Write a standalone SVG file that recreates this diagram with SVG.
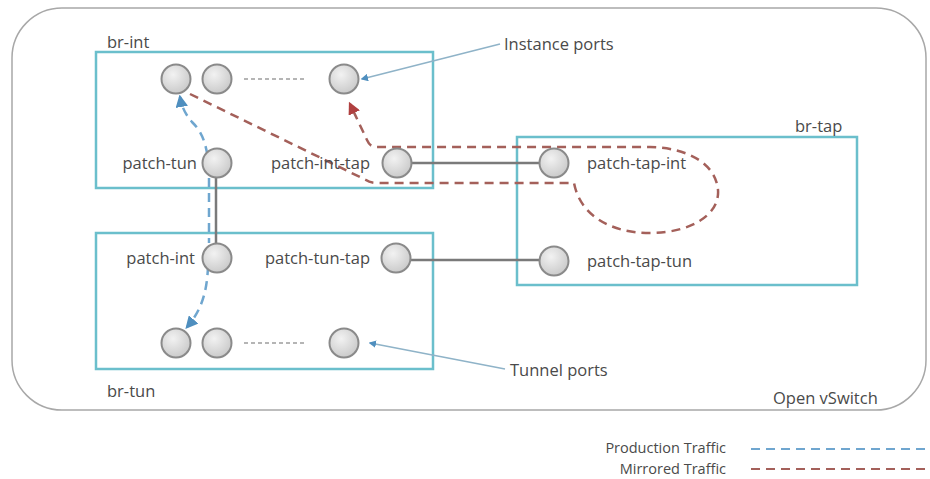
<svg xmlns="http://www.w3.org/2000/svg" width="930" height="479" viewBox="0 0 930 479">
<style>
text{font-family:"Open Sans","Liberation Sans",sans-serif;font-size:16.5px;fill:#4a4a4a}
.lg{font-size:14.5px}
.br{fill:none;stroke:#6bbfcc;stroke-width:2.5}
.port{fill:url(#g);stroke:#8a8a8a;stroke-width:2}
.link{stroke:#7a7a7a;stroke-width:2.5;fill:none}
.dots{stroke:#b5b5b5;stroke-width:2;stroke-dasharray:4 3;fill:none}
.prod{stroke:#6fa6cf;stroke-width:2.5;stroke-dasharray:9 6;fill:none}
.mir{stroke:#a4605a;stroke-width:2.5;stroke-dasharray:9 6;fill:none}
.call{stroke:#8fb3c8;stroke-width:1.5;fill:none}
</style>
<defs>
<radialGradient id="g" cx="0.4" cy="0.35" r="0.7"><stop offset="0" stop-color="#f2f2f2"/><stop offset="1" stop-color="#c8c8c8"/></radialGradient>
<marker id="ab" viewBox="0 0 10 10" refX="8" refY="5" markerWidth="5" markerHeight="5" orient="auto"><path d="M0,0L10,5L0,10z" fill="#4f8fbf"/></marker>
<marker id="ar" viewBox="0 0 10 10" refX="8" refY="5" markerWidth="5" markerHeight="5" orient="auto"><path d="M0,0L10,5L0,10z" fill="#b04040"/></marker>
<marker id="ac" viewBox="0 0 10 10" refX="8" refY="5" markerWidth="5" markerHeight="5" orient="auto"><path d="M0,0L10,5L0,10z" fill="#4f8fbf"/></marker>
</defs>
<rect x="12" y="8" width="914" height="402" rx="50" fill="#fff" stroke="#a8a8a8" stroke-width="1.5"/>
<text x="773" y="404">Open vSwitch</text>

<g id="br-int">
<rect class="br" x="96" y="52" width="337" height="136"/>
<text x="107" y="48">br-int</text>
</g>
<g id="br-tun">
<rect class="br" x="96" y="233" width="337" height="136"/>
<text x="107" y="397">br-tun</text>
</g>
<g id="br-tap">
<rect class="br" x="517" y="137" width="340" height="148"/>
<text x="795" y="132">br-tap</text>
</g>

<g id="connectors">
<line class="link" x1="216" y1="178" x2="216" y2="243"/>
<line class="link" x1="412" y1="163" x2="539" y2="163"/>
<line class="link" x1="410" y1="260" x2="539" y2="260"/>
<line class="dots" x1="244" y1="79" x2="306" y2="79"/>
<line class="dots" x1="244" y1="343" x2="306" y2="343"/>
<path class="prod" d="M209 170 C207 140 200 130 192 122 C186 115 182 108 180 97" marker-end="url(#ab)"/>
<path class="prod" d="M209 178 L209 243"/>
<path class="prod" d="M208 266 C207 295 200 312 187 327" marker-end="url(#ab)"/>
<path class="mir" d="M190 94 L366 180 Q370 183 378 183 L574 183 C580 215 610 233 650 233 C690 233 720 215 718 190 C716 165 690 148 650 147 L376 147 Q370 147 367 140 L350 104" marker-end="url(#ar)"/>
<line class="call" x1="500" y1="44" x2="362" y2="79" marker-end="url(#ac)"/>
<line class="call" x1="505" y1="369" x2="370" y2="343" marker-end="url(#ac)"/>
</g>

<g id="instance-ports">
<circle class="port" cx="176" cy="79" r="14.5"/>
<circle class="port" cx="217" cy="79" r="14.5"/>
<circle class="port" cx="344" cy="79" r="14.5"/>
<text x="504" y="50">Instance ports</text>
</g>
<g id="patch-tun">
<circle class="port" cx="217" cy="163" r="14.5"/>
<text x="197" y="169" text-anchor="end">patch-tun</text>
</g>
<g id="patch-int-tap">
<circle class="port" cx="397" cy="163" r="14.5"/>
<text x="370" y="169" text-anchor="end">patch-int-tap</text>
</g>
<g id="patch-tap-int">
<circle class="port" cx="554" cy="163" r="14.5"/>
<text x="587" y="169">patch-tap-int</text>
</g>
<g id="patch-int">
<circle class="port" cx="217" cy="258" r="14.5"/>
<text x="195" y="264" text-anchor="end">patch-int</text>
</g>
<g id="patch-tun-tap">
<circle class="port" cx="396" cy="258" r="14.5"/>
<text x="370" y="264" text-anchor="end">patch-tun-tap</text>
</g>
<g id="patch-tap-tun">
<circle class="port" cx="554" cy="261" r="14.5"/>
<text x="587" y="267">patch-tap-tun</text>
</g>
<g id="tunnel-ports">
<circle class="port" cx="176" cy="343" r="14.5"/>
<circle class="port" cx="217" cy="343" r="14.5"/>
<circle class="port" cx="344" cy="343" r="14.5"/>
<text x="510" y="376">Tunnel ports</text>
</g>

<g id="legend">
<text class="lg" x="726" y="453" text-anchor="end">Production Traffic</text>
<text class="lg" x="726" y="474" text-anchor="end">Mirrored Traffic</text>
<line class="prod" x1="751" y1="449" x2="930" y2="449" style="stroke-width:2"/>
<line class="mir" x1="751" y1="469" x2="930" y2="469" style="stroke-width:2"/>
</g>
</svg>
